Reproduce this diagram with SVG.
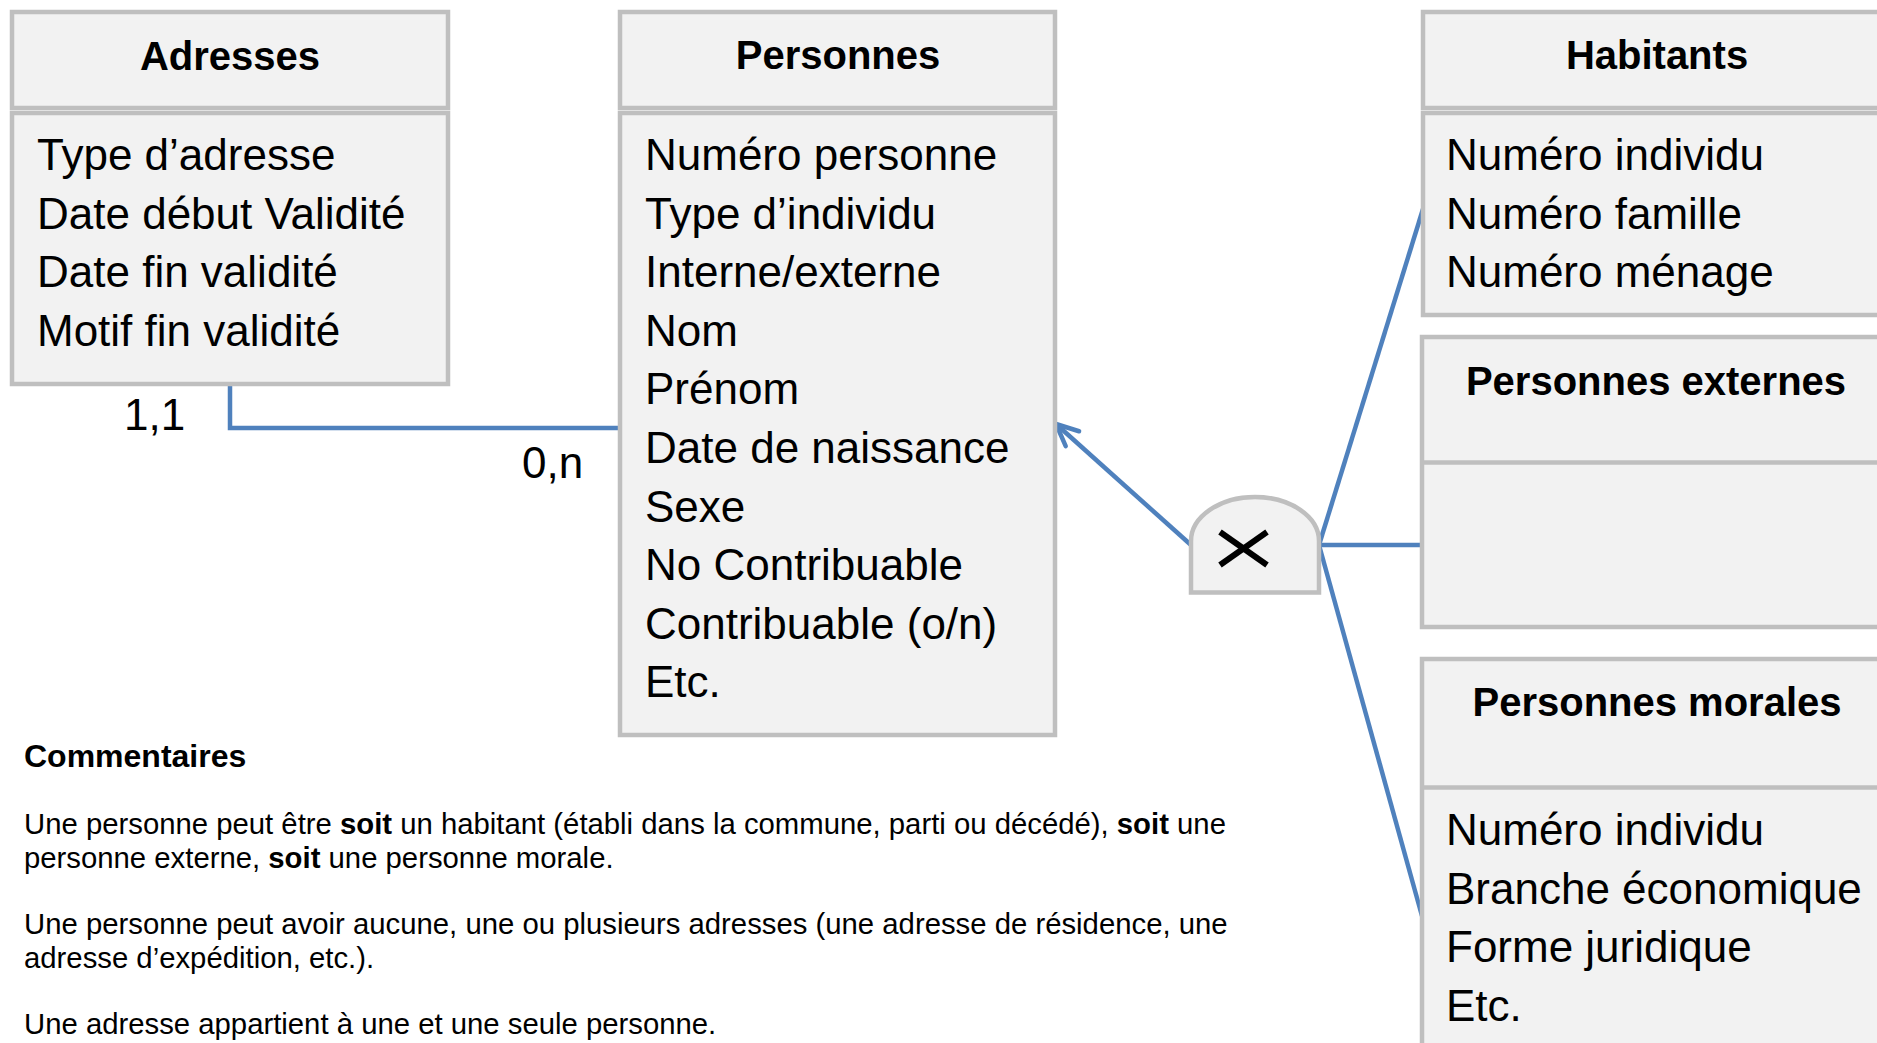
<svg xmlns="http://www.w3.org/2000/svg" width="1877" height="1043" viewBox="0 0 1877 1043">
  <style>
    .box { fill: #f2f2f2; stroke: #bfbfbf; stroke-width: 4.5; }
    .sep { stroke: #bfbfbf; stroke-width: 4.5; fill: none; }
    .title { font-family: "Liberation Sans", Arial, sans-serif; font-weight: bold; font-size: 40px; fill: #000; text-anchor: middle; }
    .attr { font-family: "Liberation Sans", Arial, sans-serif; font-size: 44px; fill: #000; }
    .card { font-family: "Liberation Sans", Arial, sans-serif; font-size: 44px; fill: #000; }
    .conn { fill: none; stroke: #4f81bd; stroke-width: 4.5; }
    .cmt { font-family: "Liberation Sans", Arial, sans-serif; font-size: 29.3px; fill: #000; }
    .cmth { font-family: "Liberation Sans", Arial, sans-serif; font-size: 32px; font-weight: bold; fill: #000; }
    .b { font-weight: bold; }
    .xmark { stroke: #000; stroke-width: 6; }
  </style>
  <defs>
    <marker id="openArrow" markerUnits="userSpaceOnUse" markerWidth="40" markerHeight="40" viewBox="-30 -20 40 40" refX="0" refY="0" orient="auto" overflow="visible">
      <path d="M -22 -10 L 0 0 L -22 10" fill="none" stroke="#4f81bd" stroke-width="4.5" stroke-linecap="round" stroke-linejoin="round"/>
    </marker>
  </defs>
  <rect x="0" y="0" width="1877" height="1043" fill="#ffffff"/>

  <g id="connectors">
    <path class="conn" d="M 230 384 V 428 H 620"/>
    <path class="conn" d="M 1191 545 L 1056 424" marker-end="url(#openArrow)"/>
    <path class="conn" d="M 1319 545 L 1423 209"/>
    <path class="conn" d="M 1319 545 H 1422"/>
    <path class="conn" d="M 1319 545 L 1422 916"/>
  </g>

  <g id="adresses">
    <rect class="box" x="12" y="12" width="436" height="96"/>
    <rect class="box" x="12" y="113" width="436" height="271"/>
    <text class="title" x="230" y="70">Adresses</text>
    <text class="attr" x="37" y="170">Type d’adresse</text>
    <text class="attr" x="37" y="228.6">Date début Validité</text>
    <text class="attr" x="37" y="287.2">Date fin validité</text>
    <text class="attr" x="37" y="345.8">Motif fin validité</text>
  </g>

  <g id="personnes">
    <rect class="box" x="620" y="12" width="435" height="96"/>
    <rect class="box" x="620" y="113" width="435" height="622"/>
    <text class="title" x="838" y="69">Personnes</text>
    <text class="attr" x="645" y="170">Numéro personne</text>
    <text class="attr" x="645" y="228.6">Type d’individu</text>
    <text class="attr" x="645" y="287.2">Interne/externe</text>
    <text class="attr" x="645" y="345.8">Nom</text>
    <text class="attr" x="645" y="404.4">Prénom</text>
    <text class="attr" x="645" y="463">Date de naissance</text>
    <text class="attr" x="645" y="521.6">Sexe</text>
    <text class="attr" x="645" y="580.2">No Contribuable</text>
    <text class="attr" x="645" y="638.8">Contribuable (o/n)</text>
    <text class="attr" x="645" y="697.4">Etc.</text>
  </g>

  <g id="habitants">
    <rect class="box" x="1423" y="12" width="470" height="96"/>
    <rect class="box" x="1423" y="113" width="470" height="202"/>
    <text class="title" x="1657" y="69">Habitants</text>
    <text class="attr" x="1446" y="170">Numéro individu</text>
    <text class="attr" x="1446" y="228.6">Numéro famille</text>
    <text class="attr" x="1446" y="287.2">Numéro ménage</text>
  </g>

  <g id="personnes-externes">
    <rect class="box" x="1422" y="337" width="470" height="290"/>
    <line class="sep" x1="1422" y1="462.5" x2="1892" y2="462.5"/>
    <text class="title" x="1656" y="395">Personnes externes</text>
  </g>

  <g id="personnes-morales">
    <rect class="box" x="1422" y="659" width="470" height="420"/>
    <line class="sep" x1="1422" y1="787.5" x2="1892" y2="787.5"/>
    <text class="title" x="1657" y="716">Personnes morales</text>
    <text class="attr" x="1446" y="845">Numéro individu</text>
    <text class="attr" x="1446" y="903.6">Branche économique</text>
    <text class="attr" x="1446" y="962.2">Forme juridique</text>
    <text class="attr" x="1446" y="1020.8">Etc.</text>
  </g>

  <g id="disjonction">
    <path class="box" d="M 1191 592.5 V 541 A 64 44 0 0 1 1319 541 V 592.5 Z"/>
    <line class="xmark" x1="1220" y1="532" x2="1267" y2="565"/>
    <line class="xmark" x1="1220" y1="565" x2="1267" y2="532"/>
  </g>

  <g id="cardinalites">
    <text class="card" x="124" y="430">1,1</text>
    <text class="card" x="522" y="478">0,n</text>
  </g>

  <g id="commentaires">
    <text class="cmth" x="24" y="767">Commentaires</text>
    <text class="cmt" x="24" y="834">Une personne peut être <tspan class="b">soit</tspan> un habitant (établi dans la commune, parti ou décédé), <tspan class="b">soit</tspan> une</text>
    <text class="cmt" x="24" y="868">personne externe, <tspan class="b">soit</tspan> une personne morale.</text>
    <text class="cmt" x="24" y="934">Une personne peut avoir aucune, une ou plusieurs adresses (une adresse de résidence, une</text>
    <text class="cmt" x="24" y="968">adresse d’expédition, etc.).</text>
    <text class="cmt" x="24" y="1034">Une adresse appartient à une et une seule personne.</text>
  </g>
</svg>
